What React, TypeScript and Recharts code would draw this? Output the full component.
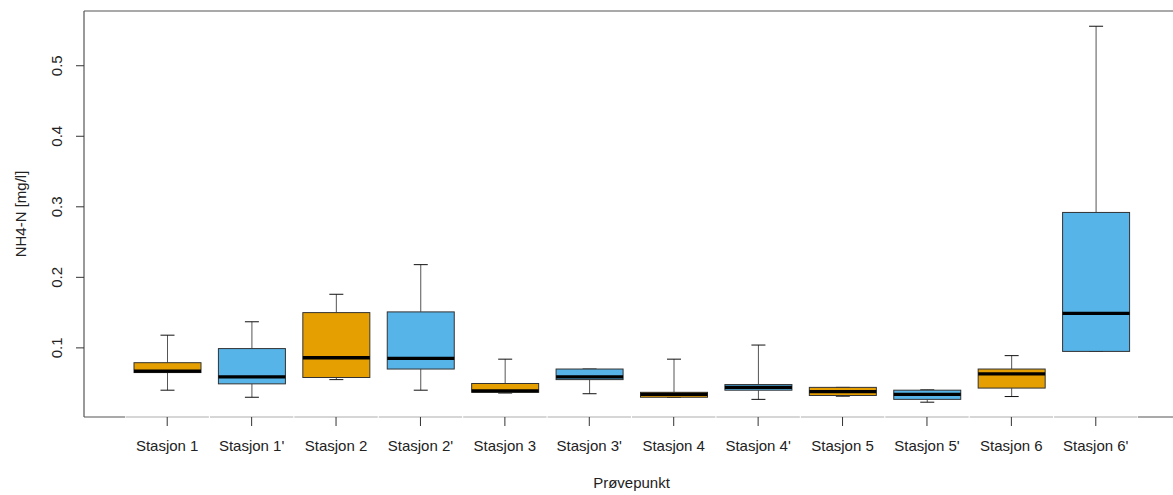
import React from 'react';
import { ComposedChart, Bar, XAxis, YAxis, ReferenceLine } from 'recharts';

// Sampling stations (primed names are the second sampling round)
const stations = [
  'Stasjon 1', "Stasjon 1'", 'Stasjon 2', "Stasjon 2'", 'Stasjon 3', "Stasjon 3'",
  'Stasjon 4', "Stasjon 4'", 'Stasjon 5', "Stasjon 5'", 'Stasjon 6', "Stasjon 6'",
];

// NH4-N [mg/l] five-number summaries per station
const lowerWhisker = [0.040, 0.030, 0.055, 0.040, 0.036, 0.035, 0.030, 0.027, 0.0315, 0.023, 0.031, 0.095];
const lowerQuartile = [0.065, 0.049, 0.058, 0.070, 0.037, 0.055, 0.030, 0.040, 0.0325, 0.027, 0.043, 0.095];
const medians = [0.067, 0.059, 0.086, 0.085, 0.039, 0.059, 0.034, 0.044, 0.038, 0.034, 0.063, 0.149];
const upperQuartile = [0.079, 0.099, 0.150, 0.151, 0.0495, 0.070, 0.037, 0.048, 0.044, 0.040, 0.070, 0.292];
const upperWhisker = [0.118, 0.137, 0.176, 0.218, 0.084, 0.070, 0.084, 0.104, 0.044, 0.0405, 0.089, 0.556];

const yTicks = [0.1, 0.2, 0.3, 0.4, 0.5];
const Y_MIN = 0.002;
const Y_MAX = 0.5776;

const ORANGE = '#E69F00';
const BLUE = '#56B4E9';
const FONT = '"Liberation Sans", Arial, sans-serif';

const rows = stations.map((name, i) => ({
  name,
  min: lowerWhisker[i],
  q1: lowerQuartile[i],
  median: medians[i],
  q3: upperQuartile[i],
  max: upperWhisker[i],
}));

const BoxShape = (props: any) => {
  const { x, y, width, height, payload } = props;
  const { min, max, q1, q3, median, name } = payload;
  // bar spans [min, max]; map the inner statistics linearly onto it
  const py = (v: number) => y + (height * (max - v)) / (max - min);
  const cx = x + width / 2;
  const cap = 7;
  const fill = String(name).endsWith("'") ? BLUE : ORANGE;
  return (
    <g>
      <line x1={cx} x2={cx} y1={py(max)} y2={py(q3)} stroke="#555" strokeWidth={1} />
      <line x1={cx} x2={cx} y1={py(q1)} y2={py(min)} stroke="#555" strokeWidth={1} />
      <line x1={cx - cap} x2={cx + cap} y1={py(max)} y2={py(max)} stroke="#111" strokeWidth={1} />
      <line x1={cx - cap} x2={cx + cap} y1={py(min)} y2={py(min)} stroke="#111" strokeWidth={1} />
      <rect
        x={x}
        y={py(q3)}
        width={width}
        height={Math.max(py(q1) - py(q3), 0.5)}
        fill={fill}
        stroke="#333"
        strokeWidth={1}
      />
      <line x1={x} x2={x + width} y1={py(median)} y2={py(median)} stroke="#000" strokeWidth={3.3} />
    </g>
  );
};

const XTick = (props: any) => {
  const { x, y, payload, index, visibleTicksCount } = props;
  const half = 42.2;
  const last = visibleTicksCount - 1;
  return (
    <g>
      <line x1={x - half + 0.5} x2={x + half - 0.5} y1={y} y2={y} stroke="#c9c9c9" strokeWidth={1.5} />
      {index === 0 && <line x1={x - half - 41} x2={x - half} y1={y} y2={y} stroke="#555" strokeWidth={1.2} />}
      {index === last && <line x1={x + half} x2={x + half + 45} y1={y} y2={y} stroke="#555" strokeWidth={1.2} />}
      <line x1={x} x2={x} y1={y} y2={y + 9} stroke="#333" strokeWidth={1} />
      <text x={x} y={y + 34} textAnchor="middle" fontFamily={FONT} fontSize={15} fill="#222">
        {payload.value}
      </text>
    </g>
  );
};

const YTick = (props: any) => {
  const { x, y, payload } = props;
  const tx = x - 12;
  return (
    <text
      x={tx}
      y={y}
      transform={`rotate(-90, ${tx}, ${y})`}
      textAnchor="middle"
      fontFamily={FONT}
      fontSize={15}
      fill="#222"
    >
      {payload.value}
    </text>
  );
};

const YTitle = (props: any) => {
  const { viewBox } = props;
  const tx = viewBox.x + 26;
  const ty = viewBox.y + viewBox.height / 2;
  return (
    <text
      x={tx}
      y={ty}
      transform={`rotate(-90, ${tx}, ${ty})`}
      textAnchor="middle"
      fontFamily={FONT}
      fontSize={15}
      fill="#222"
    >
      NH4-N [mg/l]
    </text>
  );
};

const XTitle = (props: any) => {
  const { viewBox } = props;
  return (
    <text
      x={viewBox.x + viewBox.width / 2}
      y={viewBox.y + 71}
      textAnchor="middle"
      fontFamily={FONT}
      fontSize={15}
      fill="#222"
    >
      Prøvepunkt
    </text>
  );
};

export default function App() {
  return (
    <div style={{ position: 'absolute', left: 0, top: 0, width: 1173, height: 495, overflow: 'hidden', background: '#fff' }}>
      <ComposedChart width={1179} height={495} data={rows} margin={{ top: 11, right: 0, bottom: 0, left: 0 }}>
        <XAxis
          dataKey="name"
          type="category"
          height={78}
          padding={{ left: 41, right: 41 }}
          axisLine={false}
          tickLine={false}
          tickSize={0}
          tickMargin={0}
          interval={0}
          tick={<XTick />}
          label={<XTitle />}
        />
        <YAxis
          type="number"
          width={84}
          domain={[Y_MIN, Y_MAX]}
          allowDataOverflow
          ticks={yTicks}
          tickSize={8}
          tickMargin={2}
          axisLine={{ stroke: '#555', strokeWidth: 1.2 }}
          tickLine={{ stroke: '#333' }}
          tick={<YTick />}
          label={<YTitle />}
        />
        <ReferenceLine y={Y_MAX} stroke="#555" strokeWidth={1.2} ifOverflow="extendDomain" />
        <Bar
          dataKey={(d: any) => [d.min, d.max]}
          barSize={67}
          shape={<BoxShape />}
          isAnimationActive={false}
        />
      </ComposedChart>
    </div>
  );
}
